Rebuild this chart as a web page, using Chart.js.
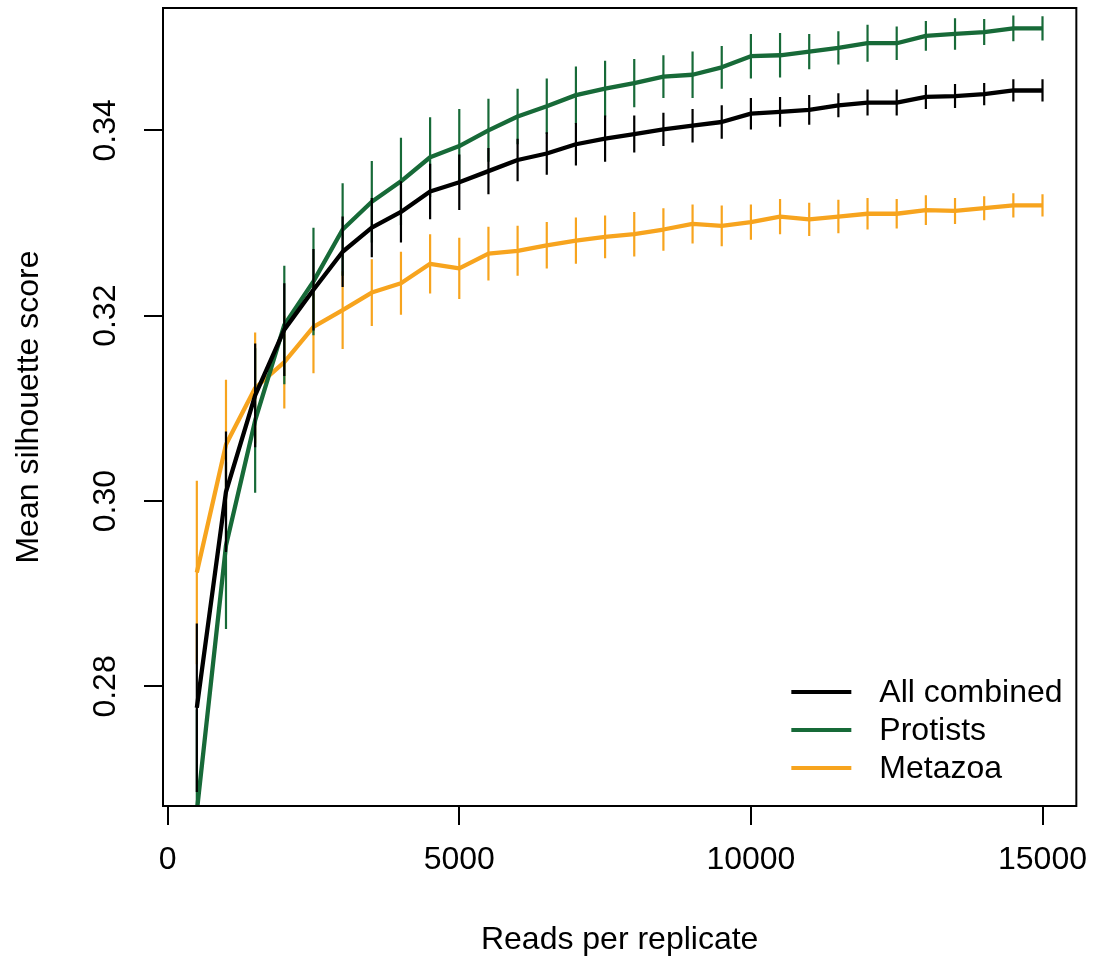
<!DOCTYPE html>
<html>
<head>
<meta charset="utf-8">
<script src="https://cdn.jsdelivr.net/npm/chart.js@4.4.1/dist/chart.umd.min.js"></script>
<style>
  html, body { margin: 0; padding: 0; background: #fff; }
  #wrap { width: 1104px; height: 959px; }
</style>
</head>
<body>
<div id="wrap"><canvas id="c" width="1104" height="959"></canvas></div>
<script>
// ---- data ----
const reads = [500,1000,1500,2000,2500,3000,3500,4000,4500,5000,5500,6000,6500,7000,7500,8000,8500,9000,9500,10000,10500,11000,11500,12000,12500,13000,13500,14000,14500,15000];
const allMean = [0.2777,0.3010,0.3114,0.3185,0.3228,0.3269,0.3295,0.3312,0.3334,0.3344,0.3356,0.3368,0.3375,0.3385,0.3391,0.3396,0.3401,0.3405,0.3409,0.3418,0.3420,0.3422,0.3427,0.3430,0.3430,0.3436,0.3437,0.3439,0.3443,0.3443];
const allErr  = [0.0091,0.0065,0.0056,0.0050,0.0044,0.0038,0.0032,0.0033,0.0030,0.0030,0.0025,0.0023,0.0023,0.0023,0.0025,0.0020,0.0018,0.0018,0.0018,0.0017,0.0016,0.0016,0.0013,0.0014,0.0014,0.0013,0.0013,0.0012,0.0012,0.0012];
const protMean = [0.2665,0.2952,0.3087,0.3190,0.3237,0.3293,0.3323,0.3345,0.3371,0.3383,0.3400,0.3415,0.3426,0.3438,0.3445,0.3451,0.3458,0.3460,0.3468,0.3480,0.3481,0.3485,0.3489,0.3494,0.3494,0.3502,0.3504,0.3506,0.3510,0.3510];
const protErr  = [0.0110,0.0090,0.0078,0.0064,0.0058,0.0050,0.0044,0.0047,0.0043,0.0040,0.0034,0.0030,0.0030,0.0031,0.0030,0.0026,0.0023,0.0025,0.0023,0.0024,0.0024,0.0019,0.0018,0.0020,0.0018,0.0016,0.0017,0.0014,0.0014,0.0013];
const metaMean = [0.2923,0.3061,0.3122,0.3150,0.3188,0.3206,0.3225,0.3235,0.3256,0.3251,0.3267,0.3270,0.3276,0.3281,0.3285,0.3288,0.3293,0.3299,0.3297,0.3301,0.3307,0.3304,0.3307,0.3310,0.3310,0.3314,0.3313,0.3316,0.3319,0.3319];
const metaErr  = [0.0099,0.0070,0.0060,0.0050,0.0050,0.0042,0.0036,0.0034,0.0032,0.0033,0.0029,0.0027,0.0025,0.0025,0.0023,0.0024,0.0023,0.0021,0.0022,0.0019,0.0019,0.0018,0.0018,0.0017,0.0016,0.0016,0.0014,0.0013,0.0013,0.0012];
const seriesNames = ["All combined", "Protists", "Metazoa"];
const xTicks = [0, 5000, 10000, 15000];
const yTicks = [0.28, 0.30, 0.32, 0.34];
const xTitle = "Reads per replicate";
const yTitle = "Mean silhouette score";

// ---- build ----
const COLORS = ["#000000", "#176a38", "#f7a41e"];
const FONT = "'Liberation Sans', Arial, Helvetica, sans-serif";
const FS = 32;
Chart.defaults.font.family = FONT;
Chart.defaults.color = "#000";

function linePts(means) { return reads.map((x, i) => ({x: x, y: means[i]})); }
function barPts(means, errs) {
  const out = [];
  reads.forEach((x, i) => {
    out.push({x: x, y: means[i] - errs[i]});
    out.push({x: x, y: means[i] + errs[i]});
    out.push({x: x, y: null});
  });
  return out;
}
const means = [allMean, protMean, metaMean];
const errs = [allErr, protErr, metaErr];
const datasets = [];
means.forEach((m, k) => {
  datasets.push({
    label: seriesNames[k], isMain: true, data: linePts(m),
    borderColor: COLORS[k], borderWidth: 4.3, pointRadius: 0, tension: 0,
    borderJoinStyle: 'round', fill: false, clip: 0, order: 2 * k + 1
  });
  datasets.push({
    label: seriesNames[k] + " error", isMain: false, data: barPts(m, errs[k]),
    borderColor: COLORS[k], borderWidth: 2.2, pointRadius: 0, spanGaps: false,
    fill: false, clip: 0, order: 2 * k + 2
  });
});

const frameAndText = {
  id: 'frameAndText',
  afterDraw(chart) {
    const ctx = chart.ctx, a = chart.chartArea;
    const ys = chart.scales.y;
    ctx.save();
    // plot frame
    ctx.strokeStyle = '#000'; ctx.lineWidth = 2;
    ctx.strokeRect(a.left, a.top, a.right - a.left, a.bottom - a.top);
    // rotated y tick labels
    ctx.fillStyle = '#000';
    ctx.font = FS + "px " + FONT;
    ctx.textAlign = 'center'; ctx.textBaseline = 'middle';
    yTicks.forEach(v => {
      const py = ys.getPixelForValue(v);
      ctx.save();
      ctx.translate(a.left - 57, py);
      ctx.rotate(-Math.PI / 2);
      ctx.fillText(v.toFixed(2), 0, 0);
      ctx.restore();
    });
    // legend
    const mains = chart.data.datasets.filter(d => d.isMain);
    const lx0 = a.right - 285, lx1 = a.right - 225, tx = a.right - 197;
    const ly0 = a.bottom - 114, step = 38;
    ctx.textAlign = 'left';
    mains.forEach((d, i) => {
      const y = ly0 + i * step;
      ctx.strokeStyle = d.borderColor; ctx.lineWidth = 4;
      ctx.beginPath(); ctx.moveTo(lx0, y); ctx.lineTo(lx1, y); ctx.stroke();
      ctx.fillStyle = '#000';
      ctx.fillText(d.label, tx, y + 1);
    });
    ctx.restore();
  }
};

new Chart(document.getElementById('c'), {
  type: 'line',
  data: { datasets: datasets },
  options: {
    responsive: false, animation: false, devicePixelRatio: 1,
    layout: { padding: { top: 8, right: 27, left: 0, bottom: 0 } },
    plugins: { legend: { display: false }, tooltip: { enabled: false } },
    scales: {
      x: {
        type: 'linear', min: -80, max: 15580,
        afterBuildTicks: s => { s.ticks = xTicks.map(v => ({value: v})); },
        afterFit: s => { s.height = 153; },
        grid: { drawOnChartArea: false, drawTicks: true, tickLength: 19, color: '#000', lineWidth: 2 },
        border: { display: true, color: '#000', width: 2 },
        ticks: { font: { size: FS }, color: '#000', padding: 16, maxRotation: 0, autoSkip: false,
                 callback: v => String(v) },
        title: { display: true, text: xTitle, font: { size: FS }, color: '#000', padding: { top: 0, bottom: 0 } }
      },
      y: {
        type: 'linear', min: 0.2671, max: 0.3532,
        afterBuildTicks: s => { s.ticks = yTicks.map(v => ({value: v})); },
        afterFit: s => { s.width = 163; },
        grid: { drawOnChartArea: false, drawTicks: true, tickLength: 19, color: '#000', lineWidth: 2 },
        border: { display: true, color: '#000', width: 2 },
        ticks: { display: false },
        title: { display: true, text: yTitle, font: { size: FS }, color: '#000', padding: { top: 10, bottom: 0 } }
      }
    }
  },
  plugins: [frameAndText]
});
</script>
</body>
</html>
